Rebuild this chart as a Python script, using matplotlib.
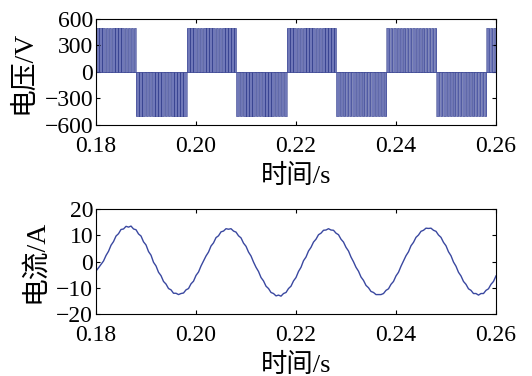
import matplotlib.pyplot as plt
import numpy as np

plt.rcParams['font.family'] = ['Liberation Serif', 'Noto Sans CJK SC']
plt.rcParams['font.size'] = 17
plt.rcParams['axes.unicode_minus'] = True

# ---- voltage: half-cycle edges (s), polarity, notch positions inside each half cycle (ms)
v_edges = [0.1780, 0.1879, 0.1981, 0.2080, 0.2181, 0.2280, 0.2381, 0.2481, 0.2581, 0.2680]
v_sign = [1, -1, 1, -1, 1, -1, 1, -1, 1]
v_amp = 500
notch_ms = [0.6, 1.2, 1.9, 2.5, 3.1, 3.8, 4.4, 5.0, 5.7, 6.3, 6.9, 7.6, 8.2, 8.8, 9.4]
notch_w_ms = 0.15

# ---- current: sampled every 0.5 ms from 0.18 s to 0.26 s
t_start, t_step = 0.18, 0.0005
i_vals = [
    -3.6, -2.4, -1.1,
    0.2, 2.3, 3.9, 6.2, 7.6, 9.7, 10.6, 12.2, 12.4, 13.4, 13.1, 13.5, 12.4, 12.1, 10.5, 9.7, 7.5, 6.3, 3.8, 2.4,
    -0.3, -1.7, -4.1, -5.4, -7.6, -8.6, -10.3, -10.8, -12.1, -12.1, -12.6, -12.2, -12.0, -10.8, -10.3, -8.5, -7.5, -5.3, -4.0, -1.7,
    0.2, 2.1, 3.6, 5.9, 7.1, 9.1, 9.8, 11.3, 11.6, 12.5, 12.3, 12.5, 11.6, 11.2, 9.8, 9.0, 7.0, 5.8, 3.6, 2.1,
    -0.2, -2.2, -3.8, -6.1, -7.4, -9.4, -10.3, -11.8, -12.2, -13.1, -12.8, -13.2, -12.2, -11.8, -10.3, -9.4, -7.4, -6.1, -3.8, -2.2,
    0.3, 1.7, 4.0, 5.4, 7.4, 8.5, 10.2, 10.8, 11.9, 12.0, 12.5, 12.0, 11.9, 10.8, 10.2, 8.5, 7.4, 5.4, 4.0, 1.7,
    -0.1, -2.2, -3.7, -5.9, -7.2, -9.1, -10.0, -11.4, -11.8, -12.6, -12.6, -12.6, -12.2, -11.0, -10.4, -8.7, -7.6, -5.5, -4.1, -1.8,
    0.2, 2.2, 3.7, 6.0, 7.3, 9.2, 10.1, 11.5, 11.9, 12.7, 12.6, 12.7, 11.9, 11.5, 10.1, 9.2, 7.3, 6.0, 3.7, 2.2,
    -0.2, -1.8, -4.1, -5.5, -7.6, -8.7, -10.4, -11.0, -12.2, -12.2, -12.8, -12.2, -12.2, -11.0, -10.4, -8.7, -7.6, -5.5,
]

x_ticks = [0.18, 0.20, 0.22, 0.24, 0.26]
v_ticks = [-600, -300, 0, 300, 600]
i_ticks = [-20, -10, 0, 10, 20]

line_c = '#3a4592'
fill_c = '#7078b8'

# build the step waveform of the voltage
tv, vv = [], []
for k, sg in enumerate(v_sign):
    s, e = v_edges[k], v_edges[k + 1]
    tv += [s, s]
    vv += [0, sg * v_amp]
    for n in notch_ms:
        a = s + n / 1000
        b = a + notch_w_ms / 1000
        if b < e:
            tv += [a, a, b, b]
            vv += [sg * v_amp, 0, 0, sg * v_amp]
    tv += [e, e]
    vv += [sg * v_amp, 0]
tv = np.array(tv)
vv = np.array(vv)

t_cur = t_start + t_step * np.arange(len(i_vals))

fig = plt.figure(figsize=(5.32, 3.76), dpi=100)
ax1 = fig.add_axes([0.1805, 0.6676, 0.7518, 0.2819])
ax2 = fig.add_axes([0.1805, 0.1649, 0.7518, 0.2792])

ax1.fill_between(tv, vv, 0, color=fill_c, linewidth=0)
ax1.plot(tv, vv, color=line_c, linewidth=0.4)
ax1.axhline(0, color=line_c, linewidth=0.6)
ax1.set_ylim(-600, 600)
ax1.set_yticks(v_ticks)
ax1.set_ylabel('电压/V', fontsize=20, labelpad=6)

ax2.plot(t_cur, i_vals, color='#3a48a0', linewidth=1.0)
ax2.set_ylim(-20, 20)
ax2.set_yticks(i_ticks)
ax2.set_ylabel('电流/A', fontsize=20, labelpad=6)

for ax in (ax1, ax2):
    ax.set_xlim(0.18, 0.26)
    ax.set_xticks(x_ticks)
    ax.set_xticklabels([f'{x:.2f}' for x in x_ticks])
    ax.set_xlabel('时间/s', fontsize=19, labelpad=5)
    ax.tick_params(direction='in', top=True, right=True, length=3, width=0.8, labelsize=17)
    ax.tick_params(axis='x', pad=8)
    ax.tick_params(axis='y', pad=2)
    for sp in ax.spines.values():
        sp.set_linewidth(0.8)

fig.savefig('out.png', dpi=100, facecolor='white')
